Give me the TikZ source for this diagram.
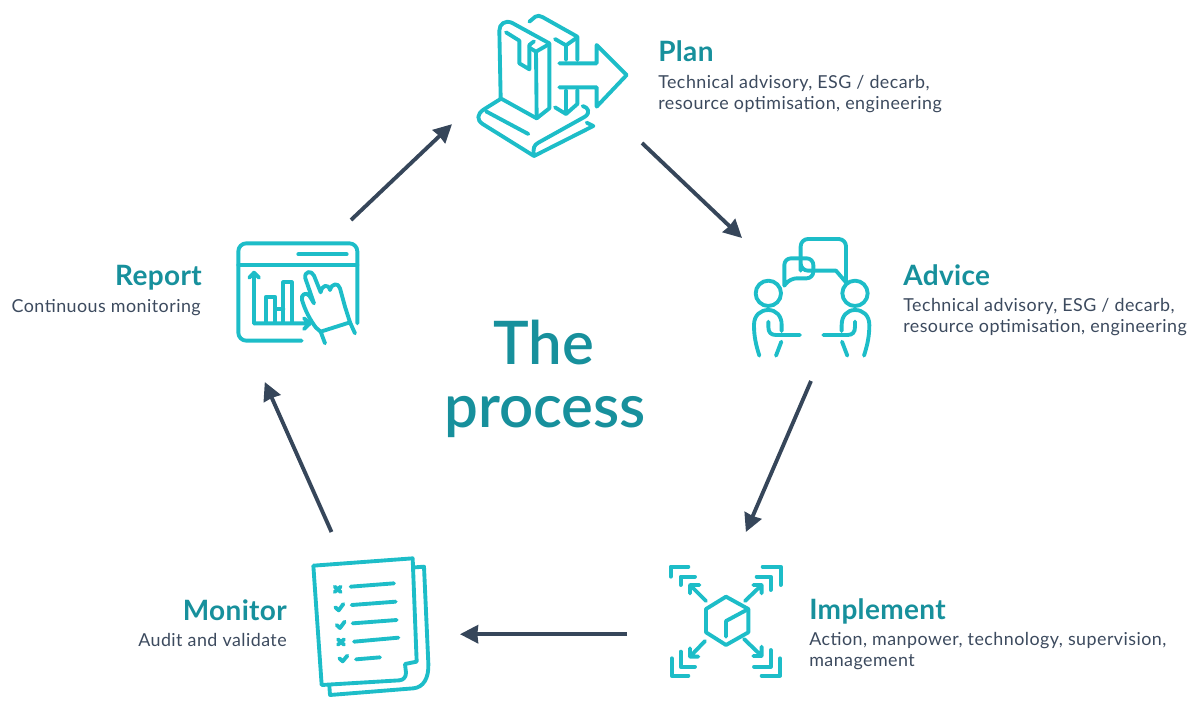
\documentclass[tikz,border=0pt]{standalone}
\usepackage{fontspec}
\setmainfont{Lato}
\newfontfamily\semi[LetterSpace=1.2]{Lato}
\newfontfamily\semibig{Lato Semibold}
\newfontfamily\bodyf[LetterSpace=2.6]{Lato}
\usetikzlibrary{arrows.meta}
\definecolor{iconc}{HTML}{1DBDC8}
\definecolor{titlec}{HTML}{17909C}
\definecolor{navy}{HTML}{36465A}
\definecolor{bodyc}{HTML}{3C4A5E}
\tikzset{
  icon/.style={draw=iconc,line width=2.9pt,line cap=round,line join=round,fill=none},
  iconbox/.style={inner sep=0pt,outer sep=0pt,draw=none},
  flow/.style={draw=navy,line width=2.9pt,-{Stealth[length=13.5pt,width=13.5pt,inset=0.5pt]}},
  ttl/.style={font=\semi\bfseries\fontsize{21pt}{22pt}\selectfont,text=titlec,inner sep=0pt},
  bodytxt/.style={font=\bodyf\fontsize{13.4pt}{16.3pt}\selectfont,text=bodyc,inner sep=0pt},
  big/.style={font=\semibig\fontsize{45pt}{47pt}\selectfont,text=titlec,inner sep=0pt},
  zoomed/.style={x=0.25pt,y=-0.25pt}
}
\begin{document}
\begin{tikzpicture}[x=0.75pt,y=-0.75pt]
\useasboundingbox (0,0) rectangle (1200,707);
% invisible icon boxes
\node[iconbox,minimum width=142.5pt,minimum height=107.25pt] (plan) at (547,71.5) {};
\node[iconbox,minimum width=103.5pt,minimum height=107.25pt] (advice) at (811,309.5) {};
\node[iconbox,minimum width=118.5pt,minimum height=112.5pt] (implement) at (706,607) {};
\node[iconbox,minimum width=120pt,minimum height=126pt] (monitor) at (380,616) {};
\node[iconbox,minimum width=94.5pt,minimum height=121.5pt] (report) at (288,301) {};
% connectors
\draw[flow] (plan.south east) -- (advice.north west);
\draw[flow] (advice.south) -- (implement.62.5);
\draw[flow] (implement.199.5) -- (implement.199.5 -| monitor.east);
\draw[flow] (monitor.120.8) -- (report.254.1);
\draw[flow] (report.north east) -- (plan.209.38);
% plan icon
\begin{scope}[shift={(460,0)},zoomed]
\draw[icon] (122,295) -- (118,92) .. controls (118,72) and (135,60) .. (155,68) -- (268,130) -- (268,325) -- (230,355) -- cycle;
\draw[icon] (228,155) -- (230,355) (228,155) -- (268,132) (228,155) -- (208,143);
\draw[icon] (138,97) -- (178,122) -- (178,190) -- (208,208) -- (208,135) -- (222,124);
\draw[icon] (208,65) -- (226,50) .. controls (233,46) and (240,47) .. (247,51) -- (352,110) -- (352,180);
\draw[icon] (285,117) -- (318,136) -- (352,112) (318,136) -- (318,180);
\draw[icon] (318,270) -- (318,342) (352,270) -- (352,312) -- (318,342) -- (285,322);
\draw[icon] (298,190) -- (410,190) -- (410,135) -- (500,225) -- (410,320) -- (410,262) -- (298,262);
\draw[icon] (120,298) -- (72,328) .. controls (50,342) and (50,360) .. (68,372) -- (222,468) -- (400,378) -- (380,368);
\draw[icon] (78,334) -- (205,402);
\draw[icon] (222,468) .. controls (218,445) and (222,435) .. (235,428) -- (375,350) .. controls (392,338) and (385,322) .. (368,318);
\end{scope}
% advice icon
\begin{scope}[shift={(740,225)},zoomed]
\draw[icon,rounded corners=5.5pt] (182,137) -- (182,42) -- (318,42) -- (318,110) [sharp corners] -- (318,172) -- (288,137) [rounded corners=5.5pt] -- (182,137) -- (182,90);
\draw[icon,rounded corners=5pt] (133,130) -- (133,100) -- (220,100) -- (220,160) -- (150,160) [sharp corners] -- (133,182) -- (133,130);
\draw[icon] (85,205) circle[radius=38];
\draw[icon] (345,205) circle[radius=38];
\draw[icon] (58,392) .. controls (48,360) and (42,335) .. (42,300) .. controls (42,270) and (62,255) .. (85,255) .. controls (108,255) and (125,272) .. (125,300) -- (125,318);
\draw[icon] (85,290) -- (85,305) .. controls (85,322) and (92,330) .. (108,330) -- (180,330);
\draw[icon] (124,350) -- (108,392);
\draw[icon] (372,392) .. controls (382,360) and (388,335) .. (388,300) .. controls (388,270) and (368,255) .. (345,255) .. controls (322,255) and (305,272) .. (305,300) -- (305,318);
\draw[icon] (345,290) -- (345,305) .. controls (345,322) and (338,330) .. (322,330) -- (250,330);
\draw[icon] (306,350) -- (322,392);
\end{scope}
% implement icon
\begin{scope}[shift={(660,555)},zoomed]
\draw[icon] (32,65) -- (32,35) -- (85,35) (62,90) -- (62,65) -- (105,65);
\draw[icon] (308,35) -- (362,35) -- (362,90) (290,65) -- (332,65) -- (332,105);
\draw[icon] (35,310) -- (35,362) -- (85,362) (62,290) -- (62,335) -- (105,335);
\draw[icon] (360,310) -- (360,362) -- (305,362) (332,285) -- (332,335) -- (282,335);
\draw[icon] (198,125) -- (265,162) -- (265,232) -- (198,270) -- (138,232) -- (138,162) -- cycle;
\draw[icon] (265,162) -- (198,198) -- (198,245);
\draw[icon] (138,138) -- (90,90) (90,115) -- (90,90) -- (118,90);
\draw[icon] (255,138) -- (305,90) (280,90) -- (305,90) -- (305,115);
\draw[icon] (135,258) -- (90,305) (90,280) -- (90,305) -- (115,305);
\draw[icon] (252,252) -- (305,303) (305,275) -- (305,303) -- (280,303);
\end{scope}
% monitor icon
\begin{scope}[shift={(300,550)},zoomed]
\draw[icon] (40,47) -- (338,25) -- (350,335) -- (315,342) -- (318,368) .. controls (318,382) and (310,390) .. (298,391) -- (65,405) -- cycle;
\draw[icon] (345,52) -- (372,50) -- (385,340) .. controls (387,385) and (370,412) .. (340,415) -- (90,435) -- (88,407);
\draw[icon] (152,110) -- (282,100) (155,165) -- (287,155) (158,220) -- (290,210) (162,275) -- (295,263) (168,328) -- (240,322);
\draw[icon] (104,110) -- (122,126) (122,110) -- (104,126);
\draw[icon] (114,268) -- (132,284) (132,268) -- (114,284);
\draw[icon] (106,172) -- (116,181) -- (130,162);
\draw[icon] (110,225) -- (120,234) -- (134,215);
\draw[icon] (118,325) -- (128,334) -- (142,317);
\end{scope}
% report icon
\begin{scope}[shift={(230,235)},zoomed]
\draw[icon,rounded corners=6pt] (382,265) -- (382,25) -- (25,25) -- (25,317) -- (215,317);
\draw[icon] (25,90) -- (382,90) (205,58) -- (350,58);
\draw[icon] (72,265) -- (72,115) (58,128) -- (72,113) -- (87,128);
\draw[icon] (72,265) -- (240,265) (222,250) -- (240,265) -- (222,282);
\draw[icon] (108,262) -- (108,185) -- (135,185) -- (135,262) (135,222) -- (160,222) (160,262) -- (160,142) -- (185,142) -- (185,262);
\draw[icon,fill=white] (258,278) .. controls (240,255) and (225,225) .. (216,195) .. controls (212,178) and (228,170) .. (238,182) -- (252,205) -- (226,130) .. controls (222,108) and (245,105) .. (252,122) -- (272,172) .. controls (275,150) and (295,145) .. (300,165) .. controls (305,145) and (325,142) .. (330,160) -- (345,215) -- (360,262) -- (272,290) -- cycle;
\draw[icon] (272,290) -- (285,325) (360,262) -- (375,295);
\end{scope}
% texts
\node[big,anchor=base] (t1) at (544,364) {The};
\node[big,anchor=base] (t2) at (545,427) {process};
\node[ttl,anchor=base west] (plant) at (658,61) {Plan};
\node[bodytxt,anchor=base west] (planb1) at (658,88) {Technical advisory, ESG / decarb,};
\node[bodytxt,anchor=base west] (planb2) at (658,109) {resource optimisation, engineering};
\node[ttl,anchor=base west] (advt) at (903,285) {Advice};
\node[bodytxt,anchor=base west] (advb1) at (903,311) {Technical advisory, ESG / decarb,};
\node[bodytxt,anchor=base west] (advb2) at (903,332) {resource optimisation, engineering};
\node[ttl,anchor=base west] (impt) at (809,619) {Implement};
\node[bodytxt,anchor=base west] (impb1) at (809,645) {Action, manpower, technology, supervision,};
\node[bodytxt,anchor=base west] (impb2) at (809,666) {management};
\node[ttl,anchor=base east] (mont) at (287,620) {Monitor};
\node[bodytxt,anchor=base east] (monb) at (287,646) {Audit and validate};
\node[ttl,anchor=base east] (rept) at (202,285) {Report};
\node[bodytxt,anchor=base east] (repb) at (201,312) {Continuous monitoring};
\end{tikzpicture}
\end{document}
